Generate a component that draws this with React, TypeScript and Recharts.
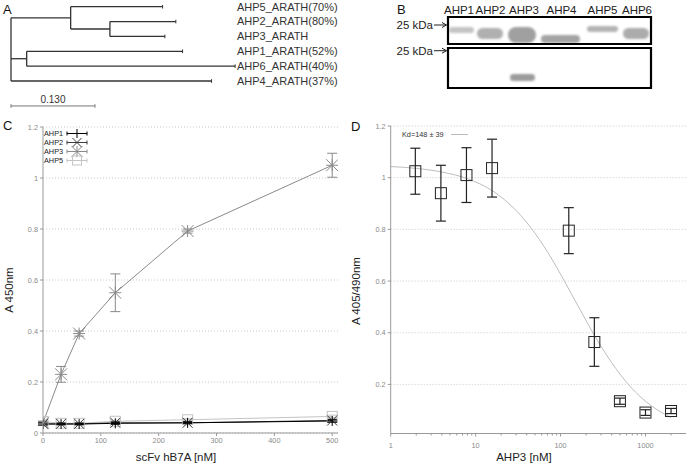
import React from 'react';
import {
  ComposedChart,
  Line,
  Scatter,
  XAxis,
  YAxis,
  CartesianGrid,
  ErrorBar,
  ReferenceLine,
  ReferenceArea,
  Legend,
  Label,
} from 'recharts';

const FONT = '"Liberation Sans", Arial, Helvetica, sans-serif';

// ---------- Panel A: tree ----------
const TREE_LEAVES = [
  'AHP5_ARATH(70%)',
  'AHP2_ARATH(80%)',
  'AHP3_ARATH',
  'AHP1_ARATH(52%)',
  'AHP6_ARATH(40%)',
  'AHP4_ARATH(37%)',
];
const TREE_TIP_DEPTH = [0.2348, 0.2553, 0.2383, 0.2657, 0.3471, 0.3106];
const TREE_LEAF_PARENT = [1, 2, 2, 3, 3, 0];
const TREE_NODE_DEPTH = [0, 0.0924, 0.1532, 0.0243];
const TREE_NODE_PARENT = [-1, 0, 1, 0];
const TREE_SCALE = 0.13;
const TREE_SCALE_LABEL = '0.130';

// ---------- Panel B: blot ----------
const BLOT_LANES = ['AHP1', 'AHP2', 'AHP3', 'AHP4', 'AHP5', 'AHP6'];
const BLOT_LANE_POS = [11, 42.5, 76, 113.5, 154.5, 189];
const BLOT_BAND_CENTER = [13.5, 42, 74, 112.5, 154.5, 188];
const BLOT_BAND_WIDTH = [25, 26, 28, 39, 31, 26];
const BLOT_BAND_TOP = [10, 11, 10, 18, 9, 11];
const BLOT_BAND_BOTTOM = [16, 22, 26, 26, 15, 22];
const BLOT_BAND_SHADE = ['#c4c4c4', '#b0b0b0', '#a0a0a0', '#a4a4a4', '#b4b4b4', '#acacac'];
const BLOT2_BAND = { center: 74.5, width: 25, top: 57, bottom: 64, shade: '#9c9c9c' };
const BLOT_MARKERS = [8, 33.7];
const BLOT_MARKER_LABEL = '25 kDa';

// ---------- Panel C ----------
const C_X = [0, 31.25, 62.5, 125, 250, 500];
const C_AHP1 = [0.035, 0.035, 0.035, 0.038, 0.04, 0.047];
const C_AHP1_ERR = [0.004, 0.003, 0.003, 0.004, 0.004, 0.005];
const C_AHP2 = [0.036, 0.036, 0.036, 0.04, 0.04, 0.049];
const C_AHP2_ERR = [0.004, 0.003, 0.003, 0.004, 0.004, 0.005];
const C_AHP3 = [0.04, 0.23, 0.39, 0.55, 0.792, 1.05];
const C_AHP3_ERR = [0.005, 0.031, 0.01, 0.074, 0.008, 0.047];
const C_AHP5 = [0.045, 0.038, 0.038, 0.046, 0.052, 0.065];
const C_AHP5_ERR = [0.004, 0.003, 0.003, 0.004, 0.004, 0.005];
const C_XTICKS = [0, 100, 200, 300, 400, 500];
const C_YTICKS = [0, 0.2, 0.4, 0.6, 0.8, 1, 1.2];

// ---------- Panel D ----------
const D_X = [1.95, 3.9, 7.8, 15.6, 125, 250, 500, 1000, 2000];
const D_Y = [1.025, 0.94, 1.01, 1.037, 0.795, 0.364, 0.135, 0.091, 0.097];
const D_ERR = [0.089, 0.108, 0.106, 0.112, 0.089, 0.094, 0.012, 0.011, 0.01];
const D_FIT_X = [1, 2, 4, 8, 16, 30, 50, 80, 110, 148, 200, 250, 300, 400, 500, 700, 1000, 1400, 2000];
const D_FIT_Y = [1.043, 1.036, 1.022, 0.996, 0.948, 0.873, 0.785, 0.682, 0.602, 0.525, 0.447, 0.39, 0.347, 0.284, 0.24, 0.183, 0.135, 0.1, 0.072];
const D_XTICKS = [1, 2, 3, 4, 5, 6, 7, 8, 9, 10, 20, 30, 40, 50, 60, 70, 80, 90, 100, 200, 300, 400, 500, 600, 700, 800, 900, 1000, 2000];
const D_YTICKS = [0.2, 0.4, 0.6, 0.8, 1, 1.2];
const D_LEGEND = 'Kd=148 \u00b1 39';

// ---------- helpers ----------
type Seg = { x1: number; y1: number; x2: number; y2: number };

function buildTree() {
  const nodeRow: number[] = [];
  const childRows = (n: number): number[] => {
    const rows: number[] = [];
    TREE_LEAF_PARENT.forEach((p, i) => {
      if (p === n) rows.push(i);
    });
    TREE_NODE_PARENT.forEach((p, i) => {
      if (p === n) rows.push(rowOf(i));
    });
    return rows;
  };
  const rowOf = (n: number): number => {
    if (nodeRow[n] !== undefined) return nodeRow[n];
    const r = childRows(n);
    nodeRow[n] = (Math.min(...r) + Math.max(...r)) / 2;
    return nodeRow[n];
  };
  const segs: Seg[] = [];
  TREE_LEAVES.forEach((_, i) => {
    segs.push({ x1: TREE_NODE_DEPTH[TREE_LEAF_PARENT[i]], y1: i, x2: TREE_TIP_DEPTH[i], y2: i });
  });
  TREE_NODE_DEPTH.forEach((d, n) => {
    const r = childRows(n);
    segs.push({ x1: d, y1: Math.min(...r), x2: d, y2: Math.max(...r) });
    if (TREE_NODE_PARENT[n] >= 0) {
      segs.push({ x1: TREE_NODE_DEPTH[TREE_NODE_PARENT[n]], y1: rowOf(n), x2: d, y2: rowOf(n) });
    }
  });
  return segs;
}

const TREE_SEGS = buildTree();
const TREE_TIPS = TREE_LEAVES.map((name, i) => ({ x: TREE_TIP_DEPTH[i], y: i, name }));
const SCALE_ROW = 6.68;

const blotData = BLOT_LANE_POS.map((x) => ({ x, y: 0 }));

const cData = C_X.map((x, i) => ({
  x,
  a1: C_AHP1[i],
  a1e: C_AHP1_ERR[i],
  a2: C_AHP2[i],
  a2e: C_AHP2_ERR[i],
  a3: C_AHP3[i],
  a3e: C_AHP3_ERR[i],
  a5: C_AHP5[i],
  a5e: C_AHP5_ERR[i],
}));

const dPoints = D_X.map((x, i) => ({ x, y: D_Y[i], e: D_ERR[i] }));
const dFit = D_FIT_X.map((x, i) => ({ x, y: D_FIT_Y[i] }));

type Kind = 'plus' | 'cross' | 'star' | 'square';

function Marker({ kind, cx, cy, r, color }: { kind: Kind; cx: number; cy: number; r: number; color: string }) {
  if (cx == null || cy == null) return null;
  const plus = (
    <>
      <line x1={cx - r} y1={cy} x2={cx + r} y2={cy} stroke={color} strokeWidth={1} />
      <line x1={cx} y1={cy - r} x2={cx} y2={cy + r} stroke={color} strokeWidth={1} />
    </>
  );
  const cross = (
    <>
      <line x1={cx - r} y1={cy - r} x2={cx + r} y2={cy + r} stroke={color} strokeWidth={1} />
      <line x1={cx - r} y1={cy + r} x2={cx + r} y2={cy - r} stroke={color} strokeWidth={1} />
    </>
  );
  if (kind === 'plus') return <g>{plus}</g>;
  if (kind === 'cross') return <g>{cross}</g>;
  if (kind === 'star')
    return (
      <g>
        {plus}
        {cross}
      </g>
    );
  return <rect x={cx - r} y={cy - r} width={2 * r} height={2 * r} fill="none" stroke={color} strokeWidth={1} />;
}

const C_SERIES: { key: string; name: string; kind: Kind; color: string; r: number }[] = [
  { key: 'a5', name: 'AHP5', kind: 'square', color: '#c4c4c4', r: 5 },
  { key: 'a2', name: 'AHP2', kind: 'cross', color: '#3a3a3a', r: 5 },
  { key: 'a1', name: 'AHP1', kind: 'plus', color: '#000000', r: 5 },
  { key: 'a3', name: 'AHP3', kind: 'star', color: '#8a8a8a', r: 6 },
];
const C_LEGEND_ORDER = ['AHP1', 'AHP2', 'AHP3', 'AHP5'];

const tickStyle = { fontSize: 7.3, fill: '#8a8a8a', fontFamily: FONT };
const titleStyle: React.CSSProperties = { fontSize: 11.5, fill: '#222', fontFamily: FONT };

function CLegend() {
  return (
    <div style={{ fontFamily: FONT, fontSize: 7.3, color: '#222', lineHeight: '9px' }}>
      {C_LEGEND_ORDER.map((n) => {
        const s = C_SERIES.find((q) => q.name === n)!;
        return (
          <div key={n} style={{ display: 'flex', alignItems: 'center', height: 9 }}>
            <span style={{ width: 21, display: 'inline-block' }}>{n}</span>
            <svg width={24} height={9} style={{ overflow: 'visible' }}>
              <line x1={2} y1={4.5} x2={22} y2={4.5} stroke={s.color} />
              <line x1={2} y1={2.5} x2={2} y2={6.5} stroke={s.color} />
              <line x1={22} y1={2.5} x2={22} y2={6.5} stroke={s.color} />
              <Marker kind={s.kind} cx={12} cy={4.5} r={s.kind === 'star' ? 5.5 : 4.5} color={s.color} />
            </svg>
          </div>
        );
      })}
    </div>
  );
}

function DLegend() {
  return (
    <div style={{ fontFamily: FONT, fontSize: 7.3, color: '#333', display: 'flex', alignItems: 'center', height: 9 }}>
      <span>{D_LEGEND}</span>
      <svg width={26} height={9}>
        <line x1={7} y1={4.5} x2={24} y2={4.5} stroke="#bbb" />
      </svg>
    </div>
  );
}

function LogTick(props: any) {
  const { x, y, payload } = props;
  const v = payload.value;
  const lg = Math.log10(v);
  const decade = Math.abs(lg - Math.round(lg)) < 1e-9;
  return (
    <g>
      <line x1={x} y1={y} x2={x} y2={y + (decade ? 3 : 2)} stroke="#999" />
      {decade && (
        <text x={x} y={y + 14} textAnchor="middle" style={tickStyle as any}>
          {v}
        </text>
      )}
    </g>
  );
}

function BlotMarkerTick(props: any) {
  const { x, y } = props;
  return (
    <g>
      <text x={x - 15} y={y + 4} textAnchor="end" fontSize={11.5} fill="#222" fontFamily={FONT}>
        {BLOT_MARKER_LABEL}
      </text>
      <line x1={x - 14} y1={y} x2={x - 1.5} y2={y} stroke="#222" strokeWidth={1} />
      <polyline points={`${x - 6},${y - 2.5} ${x - 1.5},${y} ${x - 6},${y + 2.5}`} fill="none" stroke="#222" strokeWidth={1} />
    </g>
  );
}

function BandShape(props: any) {
  const { x, y, width, height, fill } = props;
  return <rect x={x} y={y} width={width} height={height} rx={Math.min(width, height) / 2} ry={height / 2} fill={fill} filter="url(#blotblur)" />;
}

export default function App() {
  return (
    <div style={{ position: 'absolute', left: 0, top: 0, width: 689, height: 467, background: '#fff', fontFamily: FONT }}>
      {/* Panel A */}
      <div style={{ position: 'absolute', left: 0, top: 0 }}>
        <ComposedChart width={345} height={112} margin={{ top: 0, right: 0, bottom: 0, left: 11 }} data={TREE_TIPS}>
          <XAxis type="number" dataKey="x" domain={[0, 0.35]} hide allowDataOverflow />
          <YAxis
            type="number"
            dataKey="y"
            orientation="right"
            width={108}
            domain={[-0.451, 7.086]}
            reversed
            ticks={TREE_LEAVES.map((_, i) => i)}
            interval={0}
            tickFormatter={(v: number) => TREE_LEAVES[v] ?? ''}
            axisLine={false}
            tickLine={false}
            tickSize={0}
            tickMargin={0}
            tick={{ fontSize: 11, fill: '#333', fontFamily: FONT, textAnchor: 'start' }}
            allowDataOverflow
          />
          {TREE_SEGS.map((s, i) => (
            <ReferenceLine
              key={'seg' + i}
              segment={[
                { x: s.x1, y: s.y1 },
                { x: s.x2, y: s.y2 },
              ]}
              stroke="#333"
              strokeWidth={1.3}
              ifOverflow="visible"
            />
          ))}
          <ReferenceLine
            segment={[
              { x: 0, y: SCALE_ROW },
              { x: TREE_SCALE, y: SCALE_ROW },
            ]}
            stroke="#777"
            strokeWidth={1}
            ifOverflow="visible"
            label={{ value: TREE_SCALE_LABEL, position: 'top', offset: 3, fontSize: 10, fill: '#333', fontFamily: FONT }}
          />
          {[0, TREE_SCALE].map((v, i) => (
            <ReferenceLine
              key={'sb' + i}
              segment={[
                { x: v, y: SCALE_ROW - 0.12 },
                { x: v, y: SCALE_ROW + 0.12 },
              ]}
              stroke="#777"
              ifOverflow="visible"
            />
          ))}
          <Scatter
            dataKey="y"
            isAnimationActive={false}
            shape={(p: any) => <line x1={p.cx} y1={p.cy - 1.8} x2={p.cx} y2={p.cy + 1.8} stroke="#333" strokeWidth={1} />}
          />
        </ComposedChart>
      </div>

      {/* Panel B */}
      <div style={{ position: 'absolute', left: 380, top: 0 }}>
        <ComposedChart width={309} height={100} margin={{ top: 0, right: 38, bottom: 12, left: 0 }} data={blotData}>
          <defs>
            <filter id="blotblur" x="-20%" y="-50%" width="140%" height="200%">
              <feGaussianBlur stdDeviation="1.1" />
            </filter>
          </defs>
          <XAxis
            type="number"
            dataKey="x"
            orientation="top"
            height={17}
            domain={[0, 203]}
            ticks={BLOT_LANE_POS}
            interval={0}
            tickFormatter={(v: number) => BLOT_LANES[BLOT_LANE_POS.indexOf(v)] ?? ''}
            axisLine={false}
            tickLine={false}
            tickSize={0}
            tickMargin={3.5}
            tick={{ fontSize: 11.5, fill: '#222', fontFamily: FONT }}
            allowDataOverflow
          />
          <YAxis
            type="number"
            dataKey="y"
            width={68}
            domain={[0, 71]}
            reversed
            ticks={BLOT_MARKERS}
            interval={0}
            axisLine={false}
            tickLine={false}
            tickSize={0}
            tickMargin={0}
            tick={<BlotMarkerTick />}
            allowDataOverflow
          />
          <ReferenceArea x1={0} x2={203} y1={0} y2={27} fill="#fff" fillOpacity={1} ifOverflow="visible" />
          <ReferenceArea x1={0} x2={203} y1={31} y2={71} fill="#fff" fillOpacity={1} ifOverflow="visible" />
          {BLOT_LANES.map((l, i) => (
            <ReferenceArea
              key={'band' + l}
              x1={BLOT_BAND_CENTER[i] - BLOT_BAND_WIDTH[i] / 2}
              x2={BLOT_BAND_CENTER[i] + BLOT_BAND_WIDTH[i] / 2}
              y1={BLOT_BAND_TOP[i]}
              y2={BLOT_BAND_BOTTOM[i]}
              fill={BLOT_BAND_SHADE[i]}
              fillOpacity={1}
              ifOverflow="visible"
              shape={<BandShape />}
            />
          ))}
          <ReferenceArea
            x1={BLOT2_BAND.center - BLOT2_BAND.width / 2}
            x2={BLOT2_BAND.center + BLOT2_BAND.width / 2}
            y1={BLOT2_BAND.top}
            y2={BLOT2_BAND.bottom}
            fill={BLOT2_BAND.shade}
            fillOpacity={1}
            ifOverflow="visible"
            shape={<BandShape />}
          />
          <ReferenceArea x1={0} x2={203} y1={0} y2={27} fill="none" stroke="#000" strokeWidth={2.2} ifOverflow="visible" />
          <ReferenceArea x1={0} x2={203} y1={31} y2={71} fill="none" stroke="#000" strokeWidth={2.2} ifOverflow="visible" />
        </ComposedChart>
      </div>

      {/* Panel C */}
      <div style={{ position: 'absolute', left: 0, top: 0 }}>
        <ComposedChart width={345} height={467} data={cData} margin={{ top: 127, right: 7, bottom: 0, left: 0 }}>
          <CartesianGrid horizontal vertical={false} stroke="#c8c8c8" strokeDasharray="1 2" />
          <XAxis
            type="number"
            dataKey="x"
            domain={[0, 510]}
            ticks={C_XTICKS}
            interval={0}
            height={34}
            stroke="#999"
            tickSize={3}
            tickMargin={2}
            tick={tickStyle}
            allowDataOverflow
          >
            <Label
              content={() => (
                <text x={176} y={461} textAnchor="middle" style={titleStyle}>
                  scFv hB7A [nM]
                </text>
              )}
            />
          </XAxis>
          <YAxis
            type="number"
            domain={[0, 1.2]}
            ticks={C_YTICKS}
            interval={0}
            width={43}
            stroke="#999"
            tickSize={3}
            tickMargin={2}
            tick={tickStyle}
            allowDataOverflow
          >
            <Label
              content={() => (
                <text x={13} y={290} textAnchor="middle" transform="rotate(-90 13 290)" style={titleStyle}>
                  A 450nm
                </text>
              )}
            />
          </YAxis>
          {C_SERIES.map((s) => (
            <Line
              key={s.key}
              dataKey={s.key}
              stroke={s.color}
              strokeWidth={1}
              isAnimationActive={false}
              dot={(p: any) => <Marker key={s.key + p.index} kind={s.kind} cx={p.cx} cy={p.cy} r={s.r} color={s.color} />}
              activeDot={false}
            >
              <ErrorBar dataKey={s.key + 'e'} direction="y" width={5} stroke={s.color} strokeWidth={1} />
            </Line>
          ))}
          <Legend
            layout="vertical"
            align="center"
            verticalAlign="middle"
            content={() => <CLegend />}
            wrapperStyle={{ left: 44, top: 129, width: 'auto', height: 'auto' }}
          />
        </ComposedChart>
      </div>

      {/* Panel D */}
      <div style={{ position: 'absolute', left: 345, top: 0 }}>
        <ComposedChart width={344} height={467} margin={{ top: 126, right: 3, bottom: 0, left: 0 }}>
          <CartesianGrid horizontal vertical={false} stroke="#c8c8c8" strokeDasharray="1 2" />
          <XAxis
            type="number"
            dataKey="x"
            scale="log"
            domain={[1, 3000]}
            ticks={D_XTICKS}
            interval={0}
            height={33.5}
            stroke="#999"
            tickLine={false}
            tickSize={0}
            tickMargin={0}
            tick={<LogTick />}
            allowDataOverflow
          >
            <Label
              content={() => (
                <text x={179} y={461} textAnchor="middle" style={titleStyle}>
                  AHP3 [nM]
                </text>
              )}
            />
          </XAxis>
          <YAxis
            type="number"
            domain={[0.01, 1.2]}
            ticks={D_YTICKS}
            interval={0}
            width={45.7}
            stroke="#999"
            tickSize={3}
            tickMargin={2}
            tick={tickStyle}
            allowDataOverflow
          >
            <Label
              content={() => (
                <text x={15} y={291} textAnchor="middle" transform="rotate(-90 15 291)" style={titleStyle}>
                  A 405/490nm
                </text>
              )}
            />
          </YAxis>
          <Line
            data={dFit}
            dataKey="y"
            type="monotone"
            stroke="#bdbdbd"
            strokeWidth={1}
            dot={false}
            activeDot={false}
            isAnimationActive={false}
          />
          <Scatter
            data={dPoints}
            dataKey="y"
            isAnimationActive={false}
            shape={(p: any) => <Marker kind="square" cx={p.cx} cy={p.cy} r={5.5} color="#222" />}
          >
            <ErrorBar dataKey="e" direction="y" width={5} stroke="#222" strokeWidth={1.2} />
          </Scatter>
          <Legend
            layout="vertical"
            align="center"
            verticalAlign="middle"
            content={() => <DLegend />}
            wrapperStyle={{ left: 57, top: 129.5, width: 'auto', height: 'auto' }}
          />
        </ComposedChart>
      </div>

      {/* Panel letters */}
      <svg width={689} height={467} style={{ position: 'absolute', left: 0, top: 0, pointerEvents: 'none' }}>
        <text x={3} y={13.5} fontSize={13} fill="#111" fontFamily={FONT}>A</text>
        <text x={397} y={13.5} fontSize={13} fill="#111" fontFamily={FONT}>B</text>
        <text x={3} y={130} fontSize={13} fill="#111" fontFamily={FONT}>C</text>
        <text x={351} y={131} fontSize={13} fill="#111" fontFamily={FONT}>D</text>
      </svg>
    </div>
  );
}
